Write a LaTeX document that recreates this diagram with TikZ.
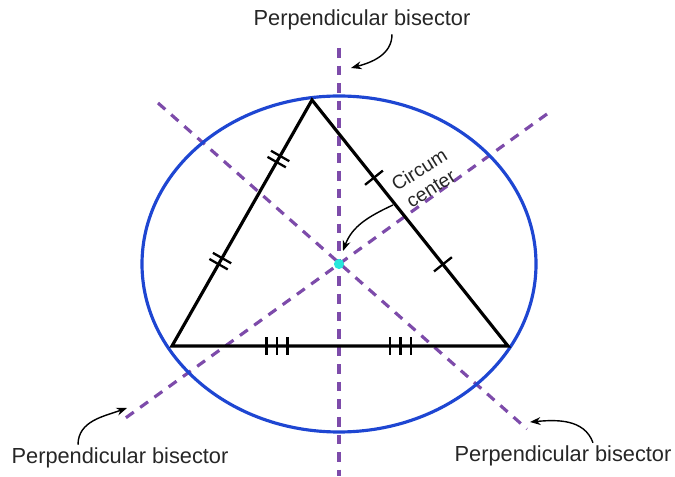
\documentclass[tikz,border=0pt]{standalone}
\usepackage{fontspec}
\setmainfont{Liberation Sans}
\usetikzlibrary{arrows.meta, calc, decorations.markings}
\definecolor{bisecpurple}{RGB}{125,75,170}
\definecolor{ringblue}{RGB}{30,70,210}
\definecolor{dotcyan}{RGB}{40,230,220}
\tikzstyle{bisector} = [draw=bisecpurple, 
line width=1.8pt, 
dash pattern=on 5.5pt off 4.5pt]
\tikzstyle{ring} = [draw=ringblue, line width=1.8pt]
\tikzstyle{side} = [draw=black, line width=1.8pt, line join=miter]
\tikzstyle{hashline} = [draw=black, line width=1.3pt]
\tikzstyle{bislabel} = [inner sep=1pt, text=black!85]
\tikzstyle{pointer} = [draw=black, line width=0.8pt, -{Stealth[length=6pt, width=4.5pt]}]
\tikzset{
  onetick/.style={postaction={decorate, decoration={markings,
    mark=at position #1 with {\draw[hashline] (0,-6.5pt) -- (0,6.5pt);}}}},
  twoticks/.style={postaction={decorate, decoration={markings,
    mark=at position #1 with {\draw[hashline] (-2pt,-6pt) -- (-2pt,6pt) (2pt,-6pt) -- (2pt,6pt);}}}},
  threeticks/.style={postaction={decorate, decoration={markings,
    mark=at position #1 with {\draw[hashline] (-6pt,-5pt) -- (-6pt,5pt) (0,-5pt) -- (0,5pt) (6pt,-5pt) -- (6pt,5pt);}}}}
}
\begin{document}
\begin{tikzpicture}[x=0.02cm, y=0.02cm, font=\fontsize{12.4}{14}\selectfont]
        \useasboundingbox (0,0) rectangle (675,476);
        % Vertices y circuncentro
        \coordinate (A) at (312,376);
        \coordinate (B) at (172,130);
        \coordinate (C) at (508,130);
        \coordinate (O) at (339,212);

        % Extremos de las mediatrices
        \coordinate (vtop) at (339,428);
        \coordinate (vbot) at (339,0);
        \coordinate (ltop) at (158,373);
        \coordinate (lbot) at (527,47);
        \coordinate (rtop) at (547,362);
        \coordinate (rbot) at (120,54);

        % Mediatrices
        \draw [bisector] (vtop) -- (vbot);
        \draw [bisector] (ltop) -- (lbot);
        \draw [bisector] (rtop) -- (rbot);

        % Circunferencia y triangulo
        \draw [ring] (O) ellipse [x radius=197, y radius=168];
        \draw [side] (A) -- (B) -- (C) -- cycle;
        \path [twoticks=0.345, twoticks=0.76] (B) -- (A);
        \path [onetick=0.316, onetick=0.668] (A) -- (C);
        \path [threeticks=0.3125, threeticks=0.68] (B) -- (C);
        \fill [dotcyan] (O) circle [radius=2.9pt];

        % Etiquetas
        \node [bislabel] (toplbl) at (362,456) {Perpendicular bisector};
        \node [bislabel] (leftlbl) at (120,18) {Perpendicular bisector};
        \node [bislabel] (rightlbl) at (563,20) {Perpendicular bisector};
        \node [bislabel, rotate=32, align=center, font=\fontsize{11}{12.5}\selectfont] (cclbl) at (425,297) {Circum\\center};

        % Flechas
        \coordinate (toptip) at (351,408);
        \coordinate (cctip) at (343,225);
        \coordinate (lefttip) at (127,68);
        \coordinate (righttip) at (530,54);
        \draw [pointer] ($(toplbl.south)+(30,-2)$) to [out=-90, in=15] (toptip);
        \draw [pointer] ($(cclbl.center)+(-32,-26)$) to [out=205, in=70] (cctip);
        \draw [pointer] ($(leftlbl.north)+(-42,1)$) to [out=90, in=200] (lefttip);
        \draw [pointer] ($(rightlbl.north)+(30,1)$) to [out=110, in=5] (righttip);
    \end{tikzpicture}
\end{document}
